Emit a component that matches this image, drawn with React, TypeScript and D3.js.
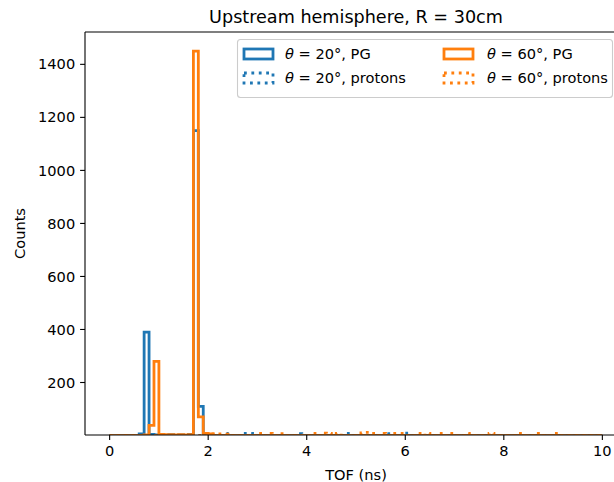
import React from "react";
import * as d3 from "d3";

const BIN_START = 0;
const BIN_WIDTH = 0.1;
const N_BINS = 100;

// counts per 0.1 ns bin, 0..10 ns
const pg20: number[] = [
  0, 0, 0, 0, 0, 0, 6, 390, 4, 2,
  1, 0, 3, 0, 2, 0, 4, 1150, 110, 4,
  0, 0, 0, 0, 0, 0, 0, 0, 0, 0,
  0, 0, 0, 0, 0, 0, 0, 0, 0, 0,
  0, 0, 0, 0, 0, 0, 0, 0, 0, 0,
  0, 0, 0, 0, 0, 0, 0, 0, 0, 0,
  0, 0, 0, 0, 0, 0, 0, 0, 0, 0,
  0, 0, 0, 0, 0, 0, 0, 0, 0, 0,
  0, 0, 0, 0, 0, 0, 0, 0, 0, 0,
  0, 0, 0, 0, 0, 0, 0, 0, 0, 0,
];
const protons20: number[] = [
  0, 0, 0, 0, 0, 0, 0, 0, 0, 0,
  0, 0, 0, 0, 0, 0, 0, 0, 0, 0,
  0, 0, 0, 0, 8, 0, 0, 8, 8, 0,
  0, 0, 0, 0, 0, 0, 0, 0, 7, 0,
  0, 0, 0, 0, 0, 0, 0, 0, 8, 0,
  0, 0, 0, 0, 0, 0, 7, 0, 0, 0,
  9, 0, 0, 0, 0, 0, 0, 0, 0, 0,
  0, 0, 0, 0, 0, 0, 0, 0, 0, 0,
  0, 0, 0, 0, 0, 0, 0, 0, 0, 0,
  0, 0, 0, 0, 0, 0, 0, 0, 0, 0,
];
const pg60: number[] = [
  0, 0, 0, 0, 0, 0, 0, 2, 38, 280,
  4, 3, 3, 2, 3, 2, 3, 1450, 70, 8,
  6, 0, 0, 0, 0, 0, 0, 0, 0, 0,
  0, 0, 0, 0, 0, 0, 0, 0, 0, 0,
  0, 0, 0, 0, 0, 0, 0, 0, 0, 0,
  0, 0, 0, 0, 0, 0, 0, 0, 0, 0,
  0, 0, 0, 0, 0, 0, 0, 0, 0, 0,
  0, 0, 0, 0, 0, 0, 0, 0, 0, 0,
  0, 0, 0, 0, 0, 0, 0, 0, 0, 0,
  0, 0, 0, 0, 0, 0, 0, 0, 0, 0,
];
const protons60: number[] = [
  0, 0, 0, 0, 0, 0, 0, 0, 0, 0,
  0, 0, 0, 0, 0, 0, 0, 0, 0, 0,
  6, 5, 6, 5, 0, 0, 0, 0, 0, 0,
  8, 0, 8, 0, 7, 0, 0, 0, 0, 0,
  0, 8, 0, 9, 8, 0, 8, 0, 0, 0,
  0, 10, 12, 8, 0, 8, 0, 8, 8, 8,
  0, 0, 8, 0, 8, 0, 0, 8, 0, 8,
  0, 0, 8, 0, 0, 0, 0, 8, 0, 0,
  0, 0, 0, 8, 0, 0, 0, 8, 0, 0,
  8, 0, 0, 0, 0, 0, 0, 0, 0, 0,
];

const X_TICKS = [0, 2, 4, 6, 8, 10];
const Y_TICKS = [200, 400, 600, 800, 1000, 1200, 1400];

const BLUE = "#1f77b4";
const ORANGE = "#ff7f0e";
const FONT = "DejaVu Sans, sans-serif";

const W = 614;
const H = 482;
const L = 85;
const R = 627;
const T = 32;
const B = 435;

const x = d3.scaleLinear().domain([-0.5, 10.5]).range([L, R]);
const y = d3.scaleLinear().domain([2, 1522]).range([B, T]);

function stepPath(counts: number[]): string {
  const pts: [number, number][] = [];
  pts.push([x(BIN_START), y(0)]);
  for (let i = 0; i < N_BINS; i++) {
    const a = BIN_START + i * BIN_WIDTH;
    const b = a + BIN_WIDTH;
    pts.push([x(a), y(counts[i])]);
    pts.push([x(b), y(counts[i])]);
  }
  pts.push([x(BIN_START + N_BINS * BIN_WIDTH), y(0)]);
  return d3.line()(pts) as string;
}

const series = [
  { data: pg20, color: BLUE, dotted: false, label: "20°, PG" },
  { data: protons20, color: BLUE, dotted: true, label: "20°, protons" },
  { data: pg60, color: ORANGE, dotted: false, label: "60°, PG" },
  { data: protons60, color: ORANGE, dotted: true, label: "60°, protons" },
];

const LW = 2.8;
const DASH = "2.8 4.6";
const FS = 14.6;

export default function App() {
  const legendPos = [
    { hx: 243, tx: 285, cy: 54 },
    { hx: 243, tx: 285, cy: 78 },
    { hx: 443, tx: 487, cy: 54 },
    { hx: 443, tx: 487, cy: 78 },
  ];
  return (
    <svg
      width={W}
      height={H}
      style={{ position: "absolute", left: 0, top: 0, background: "#fff" }}
      fontFamily={FONT}
    >
      <defs>
        <clipPath id="plotclip">
          <rect x={L} y={T} width={R - L} height={B - T} />
        </clipPath>
      </defs>
      <rect x={0} y={0} width={W} height={H} fill="#fff" />
      <g clipPath="url(#plotclip)">
        {series.map((s, i) => (
          <path
            key={i}
            d={stepPath(s.data)}
            fill="none"
            stroke={s.color}
            strokeWidth={LW}
            strokeDasharray={s.dotted ? DASH : undefined}
            strokeLinejoin="miter"
          />
        ))}
      </g>
      <g stroke="#000" strokeWidth={1.1} fill="none">
        <line x1={L} x2={L} y1={T} y2={B} />
        <line x1={L} x2={R} y1={B} y2={B} />
        <line x1={L} x2={R} y1={T} y2={T} />
        <line x1={R} x2={R} y1={T} y2={B} />
      </g>
      {X_TICKS.map((t) => (
        <g key={"x" + t}>
          <line x1={x(t)} x2={x(t)} y1={B} y2={B + 4.9} stroke="#000" strokeWidth={1.1} />
          <text x={x(t)} y={B + 9.8} dy="0.76em" textAnchor="middle" fontSize={FS} fill="#000">
            {t}
          </text>
        </g>
      ))}
      {Y_TICKS.map((t) => (
        <g key={"y" + t}>
          <line x1={L - 4.9} x2={L} y1={y(t)} y2={y(t)} stroke="#000" strokeWidth={1.1} />
          <text x={L - 9.8} y={y(t)} dy="0.35em" textAnchor="end" fontSize={FS} fill="#000">
            {t}
          </text>
        </g>
      ))}
      <text x={(L + R) / 2} y={B + 45} textAnchor="middle" fontSize={FS} fill="#000">
        TOF (ns)
      </text>
      <text
        transform={`translate(${25},${(T + B) / 2}) rotate(-90)`}
        textAnchor="middle"
        fontSize={FS}
        fill="#000"
      >
        Counts
      </text>
      <text x={(L + R) / 2} y={T - 9} textAnchor="middle" fontSize={17.6} fill="#000">
        Upstream hemisphere, R = 30cm
      </text>
      <rect x={237.5} y={39.5} width={375} height={58} rx={3} fill="#fff" fillOpacity={0.8} stroke="#ccc" strokeWidth={1.1} />
      {series.map((s, i) => {
        const p = legendPos[i];
        return (
          <g key={"lg" + i}>
            <rect
              x={p.hx + 1}
              y={p.cy - 5}
              width={29}
              height={10}
              fill="none"
              stroke={s.color}
              strokeWidth={LW}
              strokeDasharray={s.dotted ? DASH : undefined}
            />
            <text x={p.tx} y={p.cy} dy="0.35em" fontSize={FS} fill="#000">
              <tspan fontStyle="italic">θ</tspan>
              {" = " + s.label}
            </text>
          </g>
        );
      })}
    </svg>
  );
}
